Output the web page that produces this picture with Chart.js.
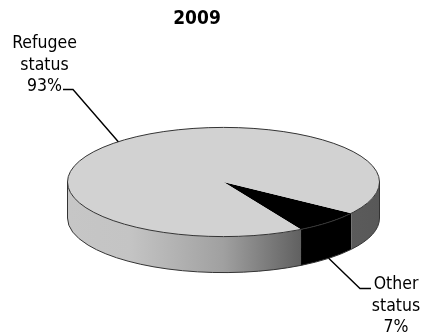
<!DOCTYPE html>
<html>
<head>
<meta charset="utf-8">
<title>2009</title>
<script src="https://cdn.jsdelivr.net/npm/chart.js@4/dist/chart.umd.min.js"></script>
<style>
  html, body { margin: 0; padding: 0; background: #fff; }
  canvas { display: block; }
</style>
</head>
<body>
<canvas id="pie" width="427" height="335"></canvas>
<script>
const chartTitle = "2009";
const categories = ["Other status", "Refugee status"];
const shares = [7, 93];
const sliceColors = ["#000000", "#d2d2d2"];

// the pie is flattened and given a side wall, Chart.js has no 3d pie
const squash = 0.35;
const depth = 36;
const labelFont = '17.5px "DejaVu Sans Condensed", "DejaVu Sans"';
const titleFont = 'bold 19px "DejaVu Sans Condensed", "DejaVu Sans"';

function drawWall(chart, arc, color) {
  const ctx = chart.ctx;
  const r = arc.outerRadius, ry = r * squash;
  for (const shift of [-2 * Math.PI, 0, 2 * Math.PI]) {
    const from = Math.max(arc.startAngle + shift, 0);
    const to = Math.min(arc.endAngle + shift, Math.PI);
    if (from >= to) continue;
    ctx.beginPath();
    ctx.ellipse(arc.x, arc.y, r, ry, 0, from, to);
    ctx.ellipse(arc.x, arc.y + depth, r, ry, 0, to, from, true);
    ctx.closePath();
    ctx.fillStyle = color;
    ctx.fill();
    ctx.beginPath();
    ctx.ellipse(arc.x, arc.y + depth, r, ry, 0, from, to);
    ctx.strokeStyle = "#333";
    ctx.lineWidth = 1;
    ctx.stroke();
  }
}

const flatPie = {
  id: "flatPie",
  beforeDatasetDraw(chart) {
    const ctx = chart.ctx;
    const arcs = chart.getDatasetMeta(0).data;
    const x0 = arcs[0].x - arcs[0].outerRadius, x1 = arcs[0].x + arcs[0].outerRadius;
    const shade = ctx.createLinearGradient(x0, 0, x1, 0);
    shade.addColorStop(0, "#c6c6c6");
    shade.addColorStop(0.2, "#c4c4c4");
    shade.addColorStop(0.5, "#a0a0a0");
    shade.addColorStop(0.75, "#606060");
    shade.addColorStop(1, "#585858");
    drawWall(chart, arcs[0], sliceColors[0]);
    drawWall(chart, arcs[1], shade);
    ctx.save();
    ctx.translate(0, arcs[0].y);
    ctx.scale(1, squash);
    ctx.translate(0, -arcs[0].y);
  },
  afterDatasetDraw(chart) {
    const ctx = chart.ctx;
    ctx.restore();
    const arc = chart.getDatasetMeta(0).data[0];
    const r = arc.outerRadius;
    ctx.beginPath();
    ctx.ellipse(arc.x, arc.y, r, r * squash, 0, 0, 2 * Math.PI);
    ctx.strokeStyle = "#333";
    ctx.lineWidth = 1;
    ctx.stroke();
    ctx.beginPath();
    ctx.moveTo(arc.x - r, arc.y);
    ctx.lineTo(arc.x - r, arc.y + depth);
    ctx.moveTo(arc.x + r, arc.y);
    ctx.lineTo(arc.x + r, arc.y + depth);
    ctx.stroke();
  },
  afterDraw(chart) {
    const ctx = chart.ctx;
    const arcs = chart.getDatasetMeta(0).data;
    const midPoint = arc => {
      const mid = (arc.startAngle + arc.endAngle) / 2;
      const below = Math.sin(mid) > 0 ? depth : 0;
      return [arc.x + arc.outerRadius * Math.cos(mid), arc.y + arc.outerRadius * squash * Math.sin(mid) + below];
    };
    const leader = (pts) => {
      ctx.beginPath();
      pts.forEach((p, i) => i ? ctx.lineTo(p[0], p[1]) : ctx.moveTo(p[0], p[1]));
      ctx.strokeStyle = "#000";
      ctx.lineWidth = 1.4;
      ctx.stroke();
    };
    leader([midPoint(arcs[1]), [73, 89.5], [63, 89.5]]);
    leader([midPoint(arcs[0]), [360, 288.5], [371, 288.5]]);

    const block = (index, cx, baseline) => {
      const lines = categories[index].split(" ").concat(shares[index] + "%");
      lines.forEach((line, i) => ctx.fillText(line, cx, baseline + i * 21.5));
    };
    ctx.fillStyle = "#000";
    ctx.textAlign = "center";
    ctx.textBaseline = "alphabetic";
    ctx.font = labelFont;
    block(1, 44.5, 48);
    block(0, 396, 289);
    ctx.font = titleFont;
    ctx.fillText(chartTitle, 197, 24);
  }
};

new Chart(document.getElementById("pie"), {
  type: "pie",
  data: {
    labels: categories,
    datasets: [{
      data: shares,
      backgroundColor: sliceColors,
      borderWidth: 0,
      clip: false
    }]
  },
  options: {
    responsive: false,
    animation: false,
    rotation: 125,
    radius: 156,
    layout: { padding: { left: 20, top: 29 } },
    plugins: { legend: { display: false }, tooltip: { enabled: false } }
  },
  plugins: [flatPie]
});
</script>
</body>
</html>
